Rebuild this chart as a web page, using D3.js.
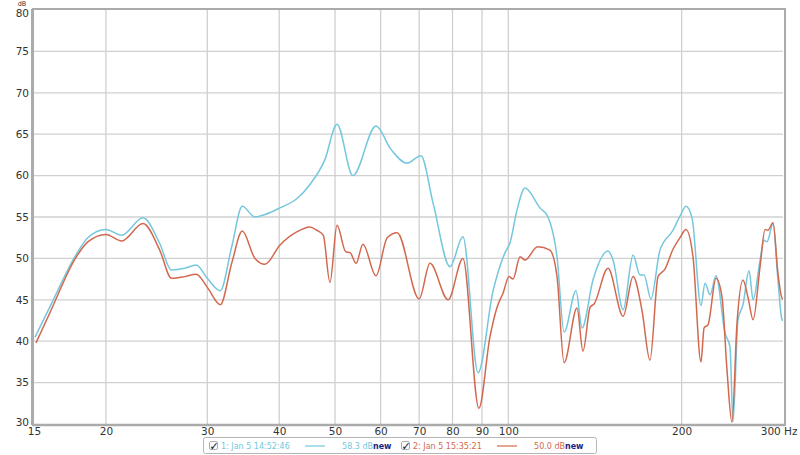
<!DOCTYPE html>
<html><head><meta charset="utf-8">
<script src="https://cdn.jsdelivr.net/npm/d3@7"></script>
<style>html,body{margin:0;padding:0;background:#fff;}svg{display:block;font-family:"DejaVu Sans",sans-serif;}</style>
</head><body><svg id="c" width="800" height="455"></svg>
<script>
// ---- data ----
const yTicks = [30,35,40,45,50,55,60,65,70,75,80];
const xTicks = [15,20,30,40,50,60,70,80,90,100,200,300];
const xGrid = [20,30,40,50,60,70,80,90,100,200];

const s1Name = "1: Jan 5 14:52:46", s1Level = "58.3 dB";
const s1Freq = [15.06,16.0,17.7,18.6,20.0,21.3,23.2,24.8,26.0,27.4,28.7,30.0,31.6,33.1,34.5,36.3,37.8,40.1,42.9,45.2,48.0,50.4,53.7,58.9,62.5,66.7,70.5,74.0,79.2,83.4,88.6,94.1,98.7,100.7,103.5,106.9,113.5,117.2,121.5,125.0,131.1,134.3,140.3,149.0,152.0,158.3,164.7,169.3,172.1,176.9,183.4,193.2,198.7,203.5,208.5,216.1,219.6,224.1,229.5,237.9,242.7,245.6,250.6,255.6,261.9,266.2,273.7,278.1,281.4,288.3,294.0,298.8,300];
const s1Db   = [40.5,44.2,50.3,52.5,53.5,52.8,54.9,51.8,48.6,48.8,49.2,47.6,46.1,51.5,56.3,55.0,55.3,56.1,57.2,58.9,61.9,66.2,60.0,66.0,63.2,61.5,62.4,56.7,49.0,52.6,36.2,46.1,50.7,51.9,55.8,58.5,56.1,55.0,50.2,41.1,46.1,41.6,47.4,50.9,49.8,43.8,50.4,48.0,48.0,45.1,51.0,53.4,55.1,56.3,54.9,44.3,47.0,45.6,47.9,41.0,39.3,30.3,42.6,44.4,48.5,45.0,49.8,52.2,52.0,54.2,47.4,42.6,42.5];

const s2Name = "2: Jan 5 15:35:21", s2Level = "50.0 dB";
const s2Freq = [15.12,16.0,17.7,18.6,20.0,21.3,23.2,24.8,26.0,27.4,28.7,30.0,31.6,33.1,34.5,36.3,37.8,40.1,42.9,45.2,46.5,47.7,49.0,50.4,52.2,53.1,54.4,55.9,58.9,61.6,64.1,70.0,73.1,78.6,83.4,88.9,92.9,95.6,97.9,100.3,101.9,104.8,106.9,112.4,118.1,121.5,125.0,131.6,134.8,138.7,140.9,149.0,158.3,164.7,170.7,176.2,182.0,187.1,193.2,198.7,203.5,209.3,216.1,218.8,222.3,229.5,235.1,239.8,244.6,249.6,255.6,260.8,266.2,273.7,279.2,282.5,288.3,294.0,298.8,300];
const s2Db   = [39.8,43.5,50.0,52.0,52.9,52.1,54.2,51.0,47.6,47.8,48.1,46.5,44.4,49.5,53.3,50.0,49.3,51.6,53.2,53.8,53.4,52.8,47.1,54.0,50.8,50.7,49.4,51.7,47.9,52.5,53.1,45.1,49.4,45.0,50.0,31.9,40.5,44.1,45.8,47.8,47.5,50.2,49.8,51.4,51.0,47.8,37.4,44.0,38.8,44.1,44.5,48.8,43.0,47.8,43.7,37.7,47.8,48.7,51.1,52.5,53.5,50.2,37.5,41.6,42.0,47.6,45.3,36.5,30.2,42.2,47.4,45.3,42.6,49.0,53.5,53.4,54.3,48.2,45.2,45.1];

const colors = ["#74c7dc", "#d2694f"];

// ---- chart ----
const svg = d3.select("#c");
const L = 34, R = 783, T = 10, B = 424;
const x = d3.scaleLog().domain([15,300]).range([L,R]);
const y = d3.scaleLinear().domain([30,80]).range([B,T]);

const g = svg.append("g");
// grid
g.selectAll(".hg").data(yTicks.filter(d=>d>30 && d<80)).enter().append("line")
  .attr("x1",L).attr("x2",R).attr("y1",d=>y(d)).attr("y2",d=>y(d))
  .attr("stroke","#d0d0d0").attr("stroke-width",1.3);
g.selectAll(".vg").data(xGrid).enter().append("line")
  .attr("x1",d=>x(d)).attr("x2",d=>x(d)).attr("y1",T).attr("y2",B)
  .attr("stroke","#d0d0d0").attr("stroke-width",1.3);

// curves
svg.append("clipPath").attr("id","clip").append("rect").attr("x",L).attr("y",T).attr("width",R-L).attr("height",B-T);
const line = d3.line().x(d=>x(d[0])).y(d=>y(d[1])).curve(d3.curveMonotoneX);
const series = [[s1Freq,s1Db],[s2Freq,s2Db]];
series.forEach((s,i)=>{
  svg.append("path").datum(s[0].map((f,j)=>[f,s[1][j]]))
    .attr("d",line).attr("fill","none").attr("stroke",colors[i]).attr("stroke-width",1.5)
    .attr("clip-path","url(#clip)");
});

// frame
svg.append("rect").attr("x",L-1).attr("y",T-1).attr("width",R-L+3).attr("height",B-T+2)
  .attr("fill","none").attr("stroke","#ababab").attr("stroke-width",2);
svg.append("line").attr("x1",L-1.5).attr("x2",L-1.5).attr("y1",T-1).attr("y2",B+1).attr("stroke","#ababab").attr("stroke-width",3);
svg.append("line").attr("x1",L-1).attr("x2",R+2).attr("y1",B+1).attr("y2",B+1).attr("stroke","#ababab").attr("stroke-width",2.5);

// axes labels via d3 axes
const yAxis = d3.axisLeft(y).tickValues(yTicks).tickSize(0).tickPadding(4);
const ya = svg.append("g").attr("transform",`translate(${L-1},0)`).call(yAxis);
ya.select(".domain").remove();
ya.selectAll("text").attr("fill","#333").style("font-size","10.5px").style("font-family","DejaVu Sans, sans-serif");
ya.selectAll(".tick").filter(d=>d===80).select("text").attr("dy","0.62em");
ya.selectAll(".tick").filter(d=>d===30).select("text").attr("dy","0.1em");
svg.append("text").attr("x",22).attr("y",6).attr("text-anchor","middle").attr("fill","#333")
  .style("font-size","6.5px").text("dB");

const xAxis = d3.axisBottom(x).tickValues(xTicks).tickSize(0).tickPadding(3).tickFormat(d=>d===300?"300 Hz":String(d));
const xa = svg.append("g").attr("transform",`translate(0,${B+1})`).call(xAxis);
xa.select(".domain").remove();
xa.selectAll("text").attr("fill","#333").style("font-size","10.5px").style("font-family","DejaVu Sans, sans-serif");
xa.selectAll(".tick").filter(d=>d===300).select("text").attr("text-anchor","end").attr("x",14);

// legend
const lg = svg.append("g");
lg.append("rect").attr("x",203.5).attr("y",437.5).attr("width",393).attr("height",16).attr("rx",2)
  .attr("fill","#fff").attr("stroke","#b5b5b5").attr("stroke-width",1);
const entries = [
  {name:s1Name, level:s1Level, c:colors[0], x0:209},
  {name:s2Name, level:s2Level, c:colors[1], x0:401}
];
entries.forEach(e=>{
  lg.append("rect").attr("x",e.x0+0.5).attr("y",441.5).attr("width",8).attr("height",8).attr("rx",1.5)
    .attr("fill","#fafafa").attr("stroke","#999").attr("stroke-width",0.8);
  lg.append("text").attr("x",e.x0+0.5).attr("y",450).attr("fill","#111").style("font-size","11px").style("font-weight","bold").text("✓");
  lg.append("text").attr("x",e.x0+12).attr("y",449).attr("fill",e.c).style("font-size","8px").text(e.name);
  lg.append("line").attr("x1",e.x0+96).attr("x2",e.x0+116).attr("y1",446).attr("y2",446).attr("stroke",e.c).attr("stroke-width",1.2);
  const t = lg.append("text").attr("x",e.x0+164).attr("y",449).attr("text-anchor","end").style("font-size","8px");
  t.append("tspan").attr("fill",e.c).text(e.level);
  lg.append("text").attr("x",e.x0+164).attr("y",449).attr("fill","#1a237e").style("font-size","8px").style("font-weight","bold").text("new");
});
</script></body></html>
